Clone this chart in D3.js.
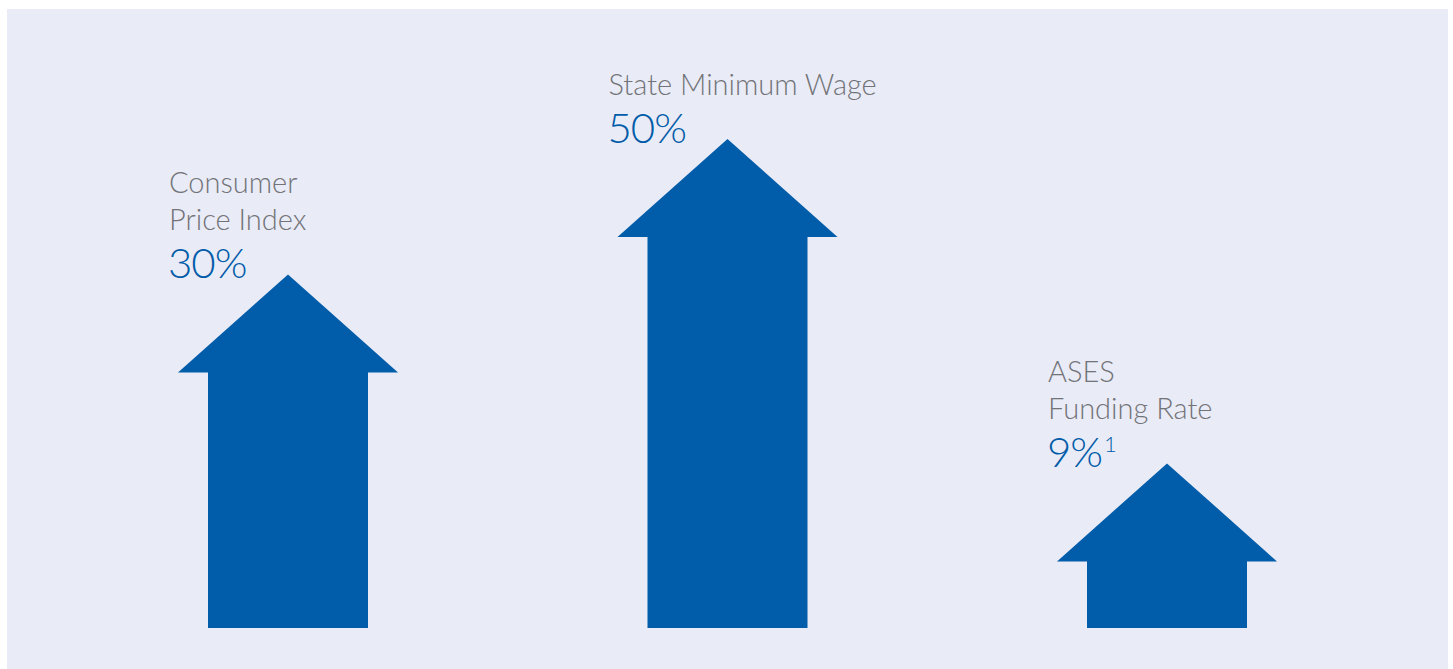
<!DOCTYPE html>
<html>
<head>
<meta charset="utf-8">
<script src="https://cdn.jsdelivr.net/npm/d3@7"></script>
<style>
  html, body { margin: 0; padding: 0; background: #ffffff; }
  svg { display: block; }
</style>
</head>
<body>
<script>
// ---- data ----
const categories = ["Consumer Price Index", "State Minimum Wage", "ASES Funding Rate"];
const labelLines = [["Consumer", "Price Index"], ["State Minimum Wage"], ["ASES", "Funding Rate"]];
const values = [30, 50, 9];
const valueLabels = ["30%", "50%", "9%"];
const footnotes = ["", "", "1"];

// ---- layout ----
const W = 1453, H = 669;
const svg = d3.select("body").append("svg").attr("width", W).attr("height", H);

svg.append("rect").attr("x", 7).attr("y", 9).attr("width", 1441).attr("height", 660).attr("fill", "#e9ebf6");

const baseY = 628;
const x = d3.scalePoint().domain(categories).range([288, 1167]);
const y = d3.scalePow().exponent(0.635).domain([0, 50]).range([baseY, baseY - 489]);

const headH = 98, headW = 220, shaftW = 160;
const blue = "#015ca9";
const gray = "#727378";
const font = "Lato, 'Open Sans', sans-serif";

const data = categories.map((c, i) => ({ c, v: values[i], lines: labelLines[i], lab: valueLabels[i], fn: footnotes[i] }));

const g = svg.selectAll("g.arrow").data(data).join("g").attr("class", "arrow");

g.append("path")
  .attr("fill", blue)
  .attr("d", d => {
    const cx = x(d.c), tip = y(d.v), hb = tip + headH;
    return `M${cx - shaftW / 2},${baseY} L${cx - shaftW / 2},${hb} L${cx - headW / 2},${hb} L${cx},${tip} L${cx + headW / 2},${hb} L${cx + shaftW / 2},${hb} L${cx + shaftW / 2},${baseY} Z`;
  });

// value label
const vt = g.append("text")
  .attr("x", d => x(d.c) - 120)
  .attr("y", d => y(d.v) + 4)
  .attr("fill", blue)
  .attr("font-family", font)
  .attr("font-weight", 300)
  .attr("font-size", 42)
  .attr("letter-spacing", -1)
  .text(d => d.lab);
vt.append("tspan")
  .attr("font-size", 22)
  .attr("dy", -15)
  .attr("dx", 2)
  .text(d => d.fn);

// category label lines
g.each(function (d) {
  const n = d.lines.length;
  d3.select(this).selectAll("text.cat").data(d.lines).join("text")
    .attr("class", "cat")
    .attr("x", x(d.c) - 119)
    .attr("y", (t, j) => y(d.v) + 4 - 48 - (n - 1 - j) * 37)
    .attr("fill", gray)
    .attr("font-family", font)
    .attr("font-weight", 300)
    .attr("font-size", 29)
    .text(t => t);
});
</script>
</body>
</html>
